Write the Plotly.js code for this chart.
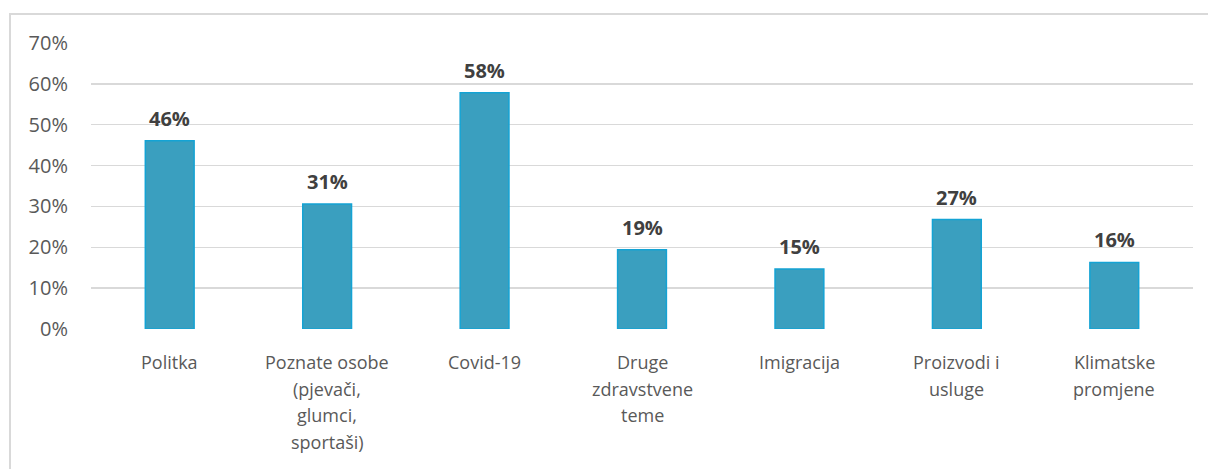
<!DOCTYPE html>
<html><head><meta charset="utf-8">
<script src="https://cdn.plot.ly/plotly-3.0.1.min.js"></script>
<style>
html,body{margin:0;padding:0;background:#fff;overflow:hidden;}
#frame{position:absolute;left:9px;top:13px;width:1300px;height:600px;border-left:2px solid #d9d9d9;border-top:2px solid #d9d9d9;box-sizing:border-box;pointer-events:none;z-index:5;}
#chart{position:absolute;left:0;top:0;width:1208px;height:469px;}
</style>
</head><body>
<div id="chart"></div>
<div id="frame"></div>
<script>
const categories = ["Politka", "Poznate osobe (pjevači, glumci, sportaši)", "Covid-19", "Druge zdravstvene teme", "Imigracija", "Proizvodi i usluge", "Klimatske promjene"];
const labelLines = [["Politka"], ["Poznate osobe", "(pjevači,", "glumci,", "sportaši)"], ["Covid-19"], ["Druge", "zdravstvene", "teme"], ["Imigracija"], ["Proizvodi i", "usluge"], ["Klimatske", "promjene"]];
const values = [46.1, 30.6, 57.8, 19.4, 14.7, 26.8, 16.3];
const yTicks = [0, 10, 20, 30, 40, 50, 60, 70];

const trace = {
  type: 'bar',
  x: categories,
  y: values,
  width: 0.31,
  marker: {color: '#3a9fbf', line: {color: '#14a3d4', width: 1.5}},
  hoverinfo: 'skip'
};

const annotations = [];
categories.forEach((c, i) => {
  annotations.push({
    x: c, y: values[i], xref: 'x', yref: 'y',
    text: '<b>' + Math.round(values[i]) + '%</b>',
    showarrow: false, yanchor: 'bottom', yshift: 7,
    font: {family: 'Open Sans', size: 20, color: '#404040'}
  });
  labelLines[i].forEach((ln, k) => {
    annotations.push({
      x: c, y: 0, xref: 'x', yref: 'y',
      text: ln, showarrow: false, yanchor: 'middle',
      yshift: -(33 + k * 26.5),
      font: {family: 'Open Sans', size: 18, color: '#595959'}
    });
  });
});

const layout = {
  width: 1208, height: 469,
  margin: {l: 91, r: 15, t: 43, b: 140},
  paper_bgcolor: '#ffffff', plot_bgcolor: '#ffffff',
  showlegend: false,
  annotations: annotations,
  xaxis: {
    type: 'category',
    showticklabels: false,
    showgrid: false, zeroline: false, showline: false, ticks: ''
  },
  yaxis: {
    range: [0, 70],
    tickvals: yTicks,
    ticktext: yTicks.map(v => v + '%'),
    tickfont: {family: 'Open Sans', size: 20, color: '#595959'},
    gridcolor: '#d9d9d9', gridwidth: 1.5,
    zeroline: false, showline: false,
    ticks: '', ticklabelstandoff: 22
  }
};

Plotly.newPlot('chart', [trace], layout, {staticPlot: true, displayModeBar: false});
</script>
</body></html>
